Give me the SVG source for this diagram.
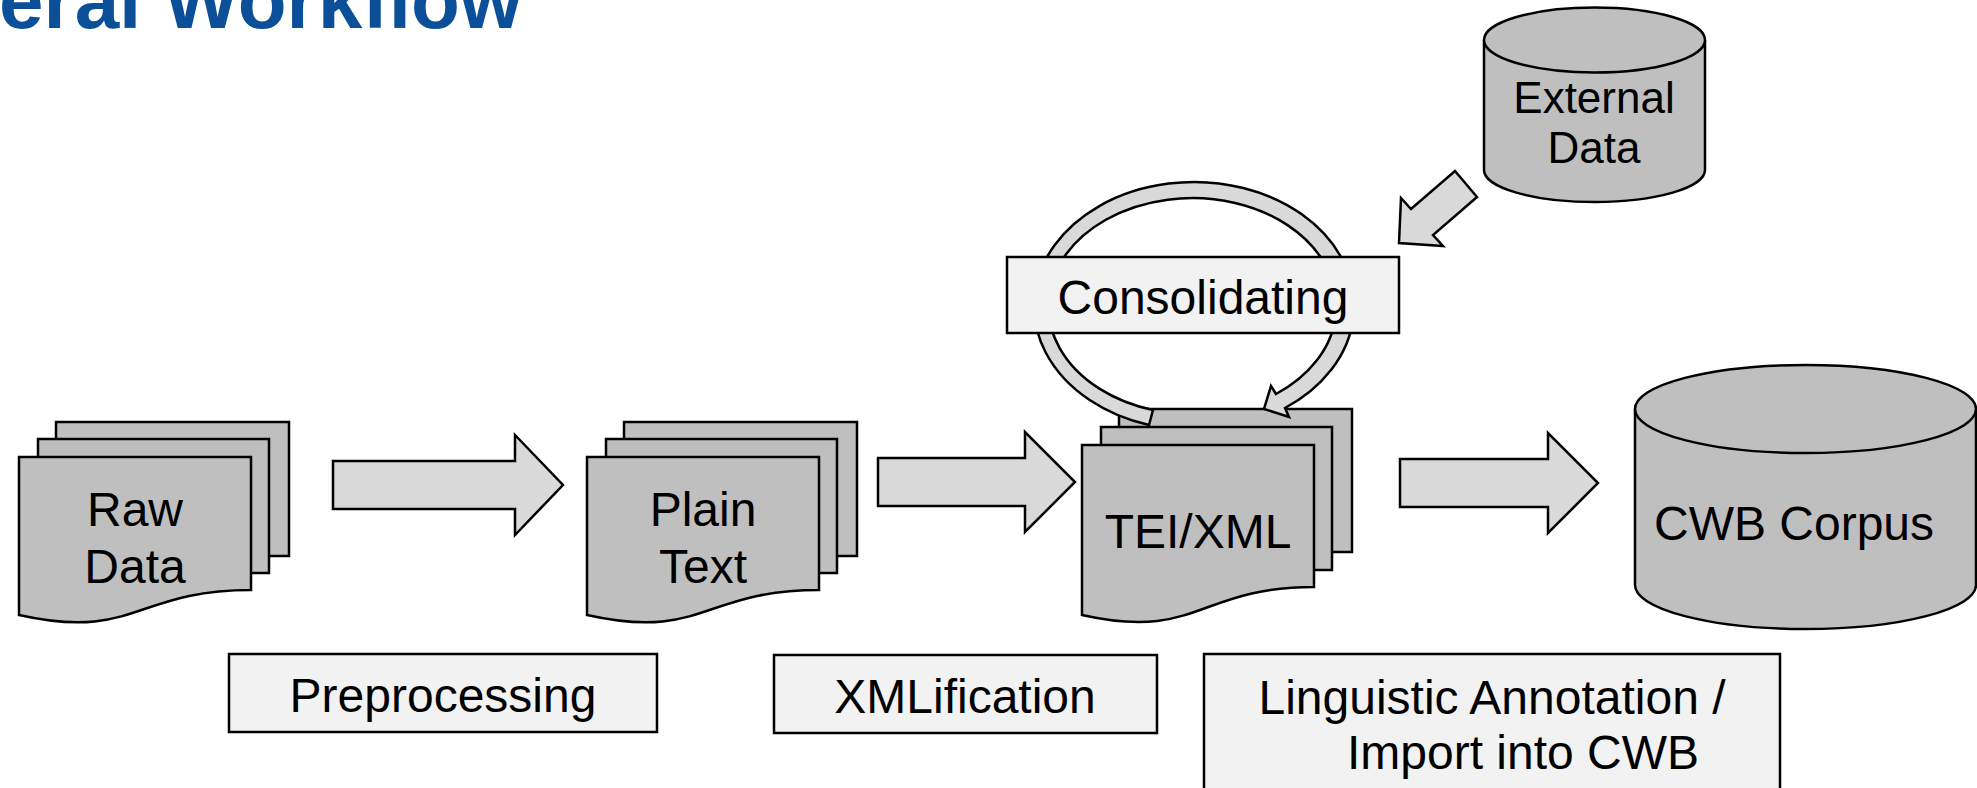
<svg xmlns="http://www.w3.org/2000/svg" width="1977" height="788" viewBox="0 0 1977 788">
<style>
.doc{fill:#bfbfbf;stroke:#000;stroke-width:2.5;stroke-linejoin:miter}
.arr{fill:#d9d9d9;stroke:#000;stroke-width:2.5;stroke-linejoin:miter}
.lbl{fill:#f2f2f2;stroke:#000;stroke-width:2.5}
.t{font-family:"Liberation Sans",Arial,sans-serif;font-size:48px;fill:#000;text-anchor:middle}
.title{font-family:"Liberation Sans",Arial,sans-serif;font-size:80px;font-weight:bold;fill:#0b4f98}
</style>
<rect width="1977" height="788" fill="#fff"/>
<text class="title" x="-1" y="28">eral Workflow</text>

<g id="raw-data">
<rect class="doc" x="56" y="422" width="233" height="134"/>
<rect class="doc" x="38" y="439" width="231" height="134"/>
<path class="doc" d="M19,457 H251 V590 C135,590 135,641 19,615 Z"/>
<text class="t" x="135" y="526">Raw</text>
<text class="t" x="135" y="583">Data</text>
</g>

<g id="plain-text">
<rect class="doc" x="624" y="422" width="233" height="134"/>
<rect class="doc" x="606" y="439" width="231" height="134"/>
<path class="doc" d="M587,457 H819 V590 C703,590 703,641 587,615 Z"/>
<text class="t" x="703" y="526">Plain</text>
<text class="t" x="703" y="583">Text</text>
</g>

<g id="tei-xml">
<rect class="doc" x="1119" y="409" width="233" height="143"/>
<rect class="doc" x="1101" y="427" width="231" height="143"/>
<path class="doc" d="M1082,445 H1314 V587 C1198,587 1198,641 1082,615 Z"/>
<text class="t" x="1198" y="548">TEI/XML</text>
</g>

<g id="external-data">
<path class="doc" d="M1484,40 A110.5,32.5 0 0 1 1705,40 V170 A110.5,32 0 0 1 1484,170 Z"/>
<path class="doc" fill="none" d="M1484,40 A110.5,32.5 0 0 0 1705,40"/>
<text class="t" style="font-size:44px" x="1594" y="113">External</text>
<text class="t" style="font-size:44px" x="1594" y="163">Data</text>
</g>

<g id="cwb-corpus">
<path class="doc" d="M1635,409 A170.5,44 0 0 1 1976,409 V585 A170.5,44 0 0 1 1635,585 Z"/>
<path class="doc" d="M1635,409 A170.5,44 0 0 0 1976,409"/>
<text class="t" x="1794" y="540">CWB Corpus</text>
</g>

<g id="connectors">
<path class="arr" d="M333,461 H515 V435 L563,485 L515,535 V509 H333 Z"/>
<path class="arr" d="M878,458 H1025 V432 L1075,482 L1025,532 V506 H878 Z"/>
<path class="arr" d="M1400,459 H1548 V433 L1598,483 L1548,533 V507 H1400 Z"/>
<polygon class="arr" points="1399,243 1401,198 1411,209 1455,171 1477,197 1433,235 1443,246"/>
<path class="arr" d="M1149,425 A160,124 0 1 1 1285,408 L1289,417 L1264,409 L1271,386 L1276,394 A144,108 0 1 0 1153,410 Z"/>
</g>

<g id="consolidating">
<rect class="lbl" x="1007" y="257" width="392" height="76"/>
<text class="t" x="1203" y="314">Consolidating</text>
</g>

<g id="preprocessing">
<rect class="lbl" x="229" y="654" width="428" height="78"/>
<text class="t" x="443" y="712">Preprocessing</text>
</g>

<g id="xmlification">
<rect class="lbl" x="774" y="655" width="383" height="78"/>
<text class="t" x="965" y="713">XMLification</text>
</g>

<g id="annotation">
<rect class="lbl" x="1204" y="654" width="576" height="150"/>
<text class="t" x="1492" y="714">Linguistic Annotation /</text>
<text class="t" x="1523" y="769">Import into CWB</text>
</g>
</svg>
